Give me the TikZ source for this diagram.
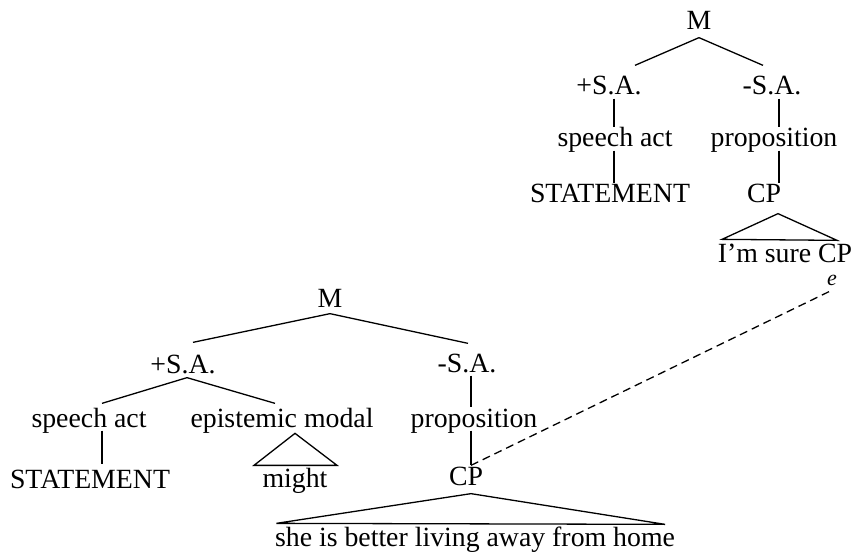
\documentclass[tikz,border=0pt]{standalone}
\usepackage{fontspec}
\setmainfont{Liberation Serif}

\begin{document}
\begin{tikzpicture}[x=1pt, y=-1pt, line width=1.3pt,
    every node/.style={inner sep=0pt, anchor=base, text height=19pt, text depth=3pt,
        font=\fontsize{27.8}{33}\selectfont}]
    \useasboundingbox (0,0) rectangle (854,553);

    % Upper tree
    \node (mT) at (699,30) {M};
    \node (plusT) at (609,95) {+S.A.};
    \node (minusT) at (772,95) {-S.A.};
    \node (actT) at (615,147) {speech act};
    \node (propT) at (774,147) {proposition};
    \node (stmtT) at (610,203) {STATEMENT};
    \node (cpT) at (764,203) {CP};
    \node (sureT) at (785,263) {I’m sure CP};
    \node[font=\fontsize{22}{24}\selectfont\itshape, text height=10pt, text depth=0pt] (eT) at (832,286) {e};

    \draw ([yshift=-4pt]mT.south) -- ([xshift=26pt,yshift=10pt]plusT.north);
    \draw ([yshift=-4pt]mT.south) -- ([xshift=-9pt,yshift=10pt]minusT.north);
    \draw ([xshift=5pt]plusT.south) -- ([xshift=-1pt]actT.north);
    \draw ([xshift=-1pt]actT.south) -- ([xshift=4pt]stmtT.north);
    \draw ([xshift=7pt]minusT.south) -- ([xshift=5pt]propT.north);
    \draw ([xshift=5pt]propT.south) -- ([xshift=15pt]cpT.north);
    \draw ([xshift=14pt,yshift=-7pt]cpT.south) -- ([xshift=-63pt,yshift=4pt]sureT.north)
        -- ([xshift=52pt,yshift=3pt]sureT.north) -- cycle;

    % Lower tree
    \node (mB) at (330,308) {M};
    \node (plusB) at (183,373) {+S.A.};
    \node (minusB) at (467,372) {-S.A.};
    \node (actB) at (89,427) {speech act};
    \node (epiB) at (282,427) {epistemic modal};
    \node (propB) at (474,427) {proposition};
    \node (stmtB) at (90,488) {STATEMENT};
    \node (mightB) at (295,487) {might};
    \node (cpB) at (466,485) {CP};
    \node (sheB) at (475,546) {she is better living away from home};

    \draw ([yshift=-2pt]mB.south) -- ([xshift=10pt,yshift=11pt]plusB.north);
    \draw ([yshift=-2pt]mB.south) -- ([xshift=1pt,yshift=9pt]minusB.north);
    \draw ([xshift=4pt,yshift=-1pt]plusB.south) -- ([xshift=13pt,yshift=4pt]actB.north);
    \draw ([xshift=4pt,yshift=-1pt]plusB.south) -- ([xshift=-7pt,yshift=4pt]epiB.north);
    \draw ([xshift=13pt]actB.south) -- ([xshift=12pt,yshift=4pt]stmtB.north);
    \draw ([xshift=4pt]minusB.south) -- ([xshift=-3pt]propB.north);
    \draw ([xshift=-3pt]propB.south) -- ([xshift=5pt]cpB.north);
    \draw ([yshift=34pt]mightB.north) -- ([xshift=-41pt,yshift=2pt]mightB.north)
        -- ([xshift=42pt,yshift=2pt]mightB.north) -- cycle;
    \draw ([xshift=5pt,yshift=-5pt]cpB.south) -- ([xshift=2pt,yshift=3pt]sheB.north west)
        -- ([xshift=190pt,yshift=2pt]sheB.north) -- cycle;

    % Link to the empty CP
    \draw[dash pattern=on 8pt off 5pt] ([xshift=5pt]cpB.north) -- ([xshift=-3pt,yshift=-5pt]eT.south);
\end{tikzpicture}
\end{document}
